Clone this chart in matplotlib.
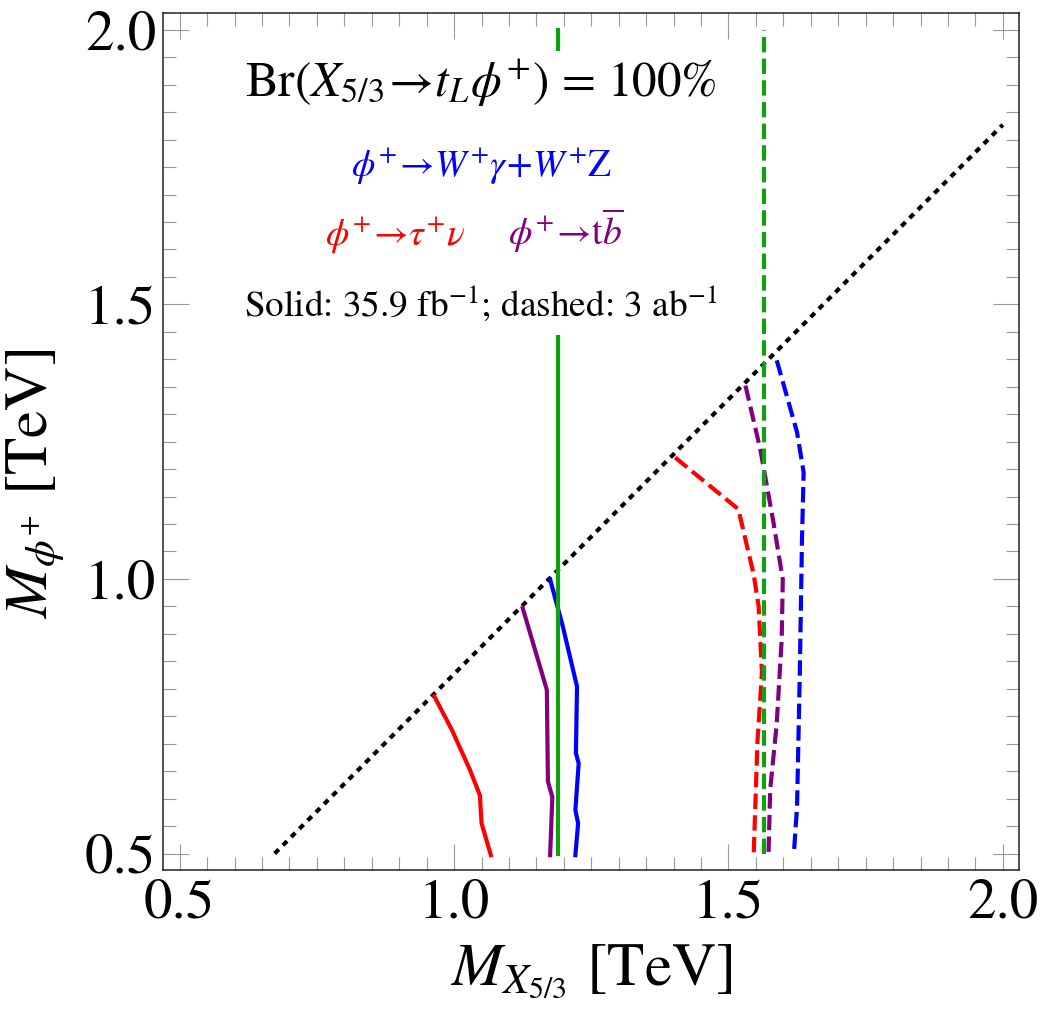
import numpy as np
import matplotlib
matplotlib.use("Agg")
import matplotlib.pyplot as plt
from matplotlib.ticker import MultipleLocator

plt.rcParams['font.family'] = ['STIXGeneral', 'DejaVu Serif']
plt.rcParams['mathtext.fontset'] = 'stix'

# kinematic threshold line (M_phi = M_X - m_t)
thr_x = [0.673, 2.0]
thr_y = [0.5, 1.827]

# exclusion limits, 35.9 fb^-1 (solid)
tau_x = [0.964, 0.996, 1.029, 1.047, 1.050, 1.067]
tau_y = [0.786, 0.725, 0.652, 0.606, 0.555, 0.497]
tb_x = [1.125, 1.169, 1.171, 1.179, 1.175]
tb_y = [0.947, 0.798, 0.631, 0.603, 0.497]
wz_x = [1.175, 1.198, 1.224, 1.222, 1.227, 1.221, 1.226, 1.221]
wz_y = [0.999, 0.914, 0.804, 0.683, 0.664, 0.579, 0.555, 0.497]
incl_x = [1.19, 1.19]
incl_y = [0.5, 2.0]

# projections, 3 ab^-1 (dashed)
tau3_x = [1.403, 1.518, 1.546, 1.555, 1.561, 1.553, 1.546]
tau3_y = [1.221, 1.127, 1.008, 0.950, 0.829, 0.707, 0.500]
tb3_x = [1.531, 1.558, 1.582, 1.599, 1.597, 1.588, 1.576, 1.573]
tb3_y = [1.352, 1.236, 1.103, 0.999, 0.890, 0.737, 0.616, 0.497]
wz3_x = [1.588, 1.625, 1.637, 1.634, 1.630, 1.625, 1.619]
wz3_y = [1.398, 1.267, 1.194, 1.072, 0.829, 0.585, 0.497]
incl3_x = [1.565, 1.565]
incl3_y = [0.5, 2.0]

red = '#ff0000'
blue = '#0000ff'
purple = '#800080'
green = '#10a010'

fig = plt.figure(figsize=(10.42, 10.21), dpi=100)
ax = fig.add_axes([0.1567, 0.1479, 0.8215, 0.8391])

lw = 3.0
dash = (0, (3.7, 1.5))
ax.plot(thr_x, thr_y, color='black', lw=lw, linestyle=(0, (1.4, 1.4)), zorder=2)

ax.plot(tau_x, tau_y, color=red, lw=lw, zorder=3)
ax.plot(tb_x, tb_y, color=purple, lw=lw, zorder=3)
ax.plot(wz_x, wz_y, color=blue, lw=lw, zorder=3)
ax.plot(incl_x, incl_y, color=green, lw=lw, zorder=3)

ax.plot(tau3_x, tau3_y, color=red, lw=lw, linestyle=dash, zorder=3)
ax.plot(tb3_x, tb3_y, color=purple, lw=lw, linestyle=dash, zorder=3)
ax.plot(wz3_x, wz3_y, color=blue, lw=lw, linestyle=dash, zorder=3)
ax.plot(incl3_x, incl3_y, color=green, lw=lw, linestyle=dash, zorder=3)

# labels with white background
def label(x, y, s, c, size, pad):
    ax.text(x, y, s, color=c, fontsize=size, ha='center', va='baseline', zorder=5,
            bbox=dict(boxstyle='square,pad=%g' % pad, fc='white', ec='none'))

label(1.049, 1.877, r'Br$(X_{5/3}\!\rightarrow\! t_L\phi^{+})$ = 100%', 'black', 35.5, 0.15)
label(1.051, 1.733, r'$\phi^{+}\!\rightarrow\! W^{+}\gamma\!+\!W^{+}\mathrm{Z}$', blue, 27, 0.95)
label(0.892, 1.6075, r'$\phi^{+}\!\rightarrow\!\tau^{+}\nu$', red, 27, 0.6)
label(1.204, 1.6075, r'$\phi^{+}\!\rightarrow\!\mathrm{t}\overline{b}$', purple, 27, 0.6)
label(1.049, 1.479, r'Solid: 35.9 fb$^{-1}$; dashed: 3 ab$^{-1}$', 'black', 26.8, 0.3)

ax.set_xlim(0.47, 2.03)
ax.set_ylim(0.47, 2.03)
ax.xaxis.set_major_locator(MultipleLocator(0.5))
ax.yaxis.set_major_locator(MultipleLocator(0.5))
ax.xaxis.set_minor_locator(MultipleLocator(0.05))
ax.yaxis.set_minor_locator(MultipleLocator(0.05))
ax.xaxis.set_major_formatter(matplotlib.ticker.FormatStrFormatter('%.1f'))
ax.yaxis.set_major_formatter(matplotlib.ticker.FormatStrFormatter('%.1f'))
ax.tick_params(which='both', direction='in', top=True, right=True, color='#999999',
               width=0.8, labelsize=41)
ax.tick_params(which='major', length=18.7)
ax.tick_params(which='minor', length=9.4)
ax.tick_params(axis='x', pad=6)
ax.tick_params(axis='y', pad=5)
for sp in ax.spines.values():
    sp.set_linewidth(1.1)
    sp.set_color('#222222')

ax.set_xlabel(r'$M_{X_{5/3}}$ [TeV]', fontsize=44)
ax.set_ylabel(r'$M_{\phi^{+}}$ [TeV]', fontsize=44)
ax.xaxis.set_label_coords(0.5, -0.085)
ax.yaxis.set_label_coords(-0.112, 0.45)

fig.savefig('out.png', dpi=100)
